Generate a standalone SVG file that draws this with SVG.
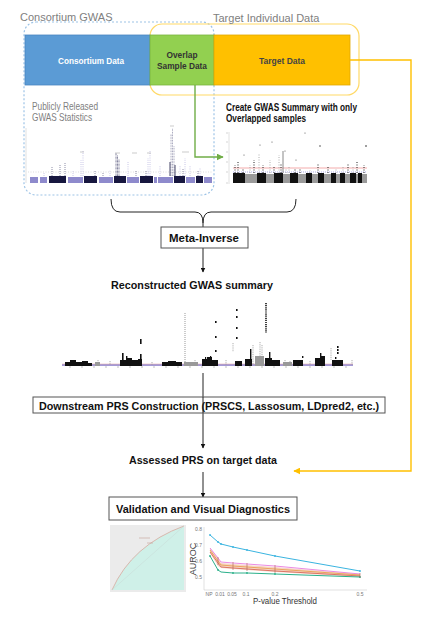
<svg xmlns="http://www.w3.org/2000/svg" width="440" height="617" viewBox="0 0 440 617">
<defs>
<style>
.lbl{font-family:"Liberation Sans",Arial,sans-serif;fill:#808080;font-size:11px}
.bold{font-family:"Liberation Sans",Arial,sans-serif;font-weight:bold;fill:#111;font-size:11px}
.inbox{font-family:"Liberation Sans",Arial,sans-serif;font-weight:bold;font-size:9.5px}
.tick{font-family:"Liberation Sans",Arial,sans-serif;fill:#777;font-size:5px}
.box{fill:#fff;stroke:#555;stroke-width:1}
.conn{stroke:#222;stroke-width:1;fill:none}
.lt{fill:#8e8acc}
.dk{fill:#17173f}
.bk{fill:#111}
.gy{fill:#9a9a9a}
.dotd{stroke:#3a3a66;stroke-width:0.7;stroke-dasharray:0.8 1.2;fill:none}
.dotl{stroke:#a09cd6;stroke-width:0.7;stroke-dasharray:0.8 1.4;fill:none}
</style>
<marker id="ak" viewBox="0 0 10 10" refX="9" refY="5" markerWidth="5" markerHeight="5" orient="auto"><path d="M0,0L10,5L0,10z" fill="#111"/></marker>
<marker id="ag" viewBox="0 0 10 10" refX="9" refY="5" markerWidth="5" markerHeight="5" orient="auto"><path d="M0,0L10,5L0,10z" fill="#70ad47"/></marker>
<marker id="ay" viewBox="0 0 10 10" refX="9" refY="5" markerWidth="5" markerHeight="5" orient="auto"><path d="M0,0L10,5L0,10z" fill="#ffc000"/></marker>
</defs>
<rect width="440" height="617" fill="#fff"/>

<g id="consortium-gwas">
<rect x="24" y="22" width="190" height="173" rx="12" fill="none" stroke="#9dc3e6" stroke-width="1.2" stroke-dasharray="2 2"/>
<text class="lbl" x="20" y="21">Consortium GWAS</text>
</g>
<g id="target-individual">
<rect x="150" y="24" width="209" height="71" rx="12" fill="none" stroke="#ffd966" stroke-width="1.2"/>
<text class="lbl" x="213" y="22">Target Individual Data</text>
</g>

<g id="consortium-data">
<rect x="25" y="35" width="125" height="50" fill="#5b9bd5" stroke="#4a86c0" stroke-width="0.8"/>
<text class="inbox" x="91" y="64" text-anchor="middle" fill="#fff" textLength="66" lengthAdjust="spacingAndGlyphs">Consortium Data</text>
</g>
<g id="overlap-data">
<rect x="150" y="35" width="64" height="50" fill="#92d050" stroke="#7ab33e" stroke-width="0.8"/>
<text class="inbox" x="182" y="58" text-anchor="middle" fill="#333" textLength="31" lengthAdjust="spacingAndGlyphs">Overlap</text>
<text class="inbox" x="182" y="69" text-anchor="middle" fill="#333" textLength="50" lengthAdjust="spacingAndGlyphs">Sample Data</text>
</g>
<g id="target-data">
<rect x="214" y="35" width="136" height="50" fill="#ffc000" stroke="#e0a800" stroke-width="0.8"/>
<text class="inbox" x="282" y="64" text-anchor="middle" fill="#444" textLength="46" lengthAdjust="spacingAndGlyphs">Target Data</text>
</g>

<g id="public-gwas">
<text class="lbl" x="32" y="110" font-size="10" textLength="66" lengthAdjust="spacingAndGlyphs">Publicly Released</text>
<text class="lbl" x="32" y="121" font-size="10" textLength="60" lengthAdjust="spacingAndGlyphs">GWAS Statistics</text>
<line x1="26" y1="128" x2="26" y2="183" stroke="#ccc" stroke-width="0.6"/>
<line x1="28" y1="172" x2="212" y2="172" stroke="#bbb" stroke-width="0.5" stroke-dasharray="1 1.5"/>
<rect class="lt" x="30" y="177" width="8" height="6"/>
<rect class="lt" x="40" y="177" width="7" height="6"/>
<rect class="dk" x="49" y="176" width="17" height="7"/>
<rect class="lt" x="68" y="177" width="15" height="6"/>
<rect class="dk" x="84" y="176" width="13" height="7"/>
<rect class="lt" x="99" y="177" width="14" height="6"/>
<rect class="dk" x="114" y="176" width="12" height="7"/>
<rect class="lt" x="127" y="177" width="12" height="6"/>
<rect class="dk" x="140" y="176" width="13" height="7"/>
<rect class="lt" x="154" y="177" width="3" height="6"/>
<rect class="lt" x="158" y="177" width="15" height="6"/>
<rect class="dk" x="174" y="176" width="11" height="7"/>
<rect class="lt" x="186" y="177" width="9" height="6"/>
<rect class="dk" x="196" y="176" width="7" height="7"/>
<rect class="lt" x="204" y="177" width="8" height="6"/>
<path class="dotd" d="M52,176V167M60,176V164M65,176V162M95,176V170M103,176V172M136,176V170M146,176V171M183,176V168M198,176V170"/>
<path class="dotl" d="M81,176V160M83,176V150M128,176V162M148,176V158M150,176V150M160,176V165M180,176V165M185,176V158M190,176V166M200,176V168M44,176V173M73,176V171M110,176V170"/>
<path d="M116,176V153M117.5,176V155M119,176V159" stroke="#2a2a58" stroke-width="0.7" stroke-dasharray="0.8 0.6"/>
<path d="M171,176V134M172.5,176V128M174,176V146" stroke="#555580" stroke-width="0.6" stroke-dasharray="0.8 0.8"/>
<path d="M170,176V162M175,176V165" stroke="#15153f" stroke-width="0.8"/>
<path d="M80,152H84M115,153H120M147,153H151M132,153H137M182,152H189M170,126H174" stroke="#aaa" stroke-width="0.6"/>
</g>

<g id="overlap-gwas">
<text class="bold" x="226" y="111" font-size="10" textLength="131" lengthAdjust="spacingAndGlyphs">Create GWAS Summary with only</text>
<text class="bold" x="226" y="122" font-size="10" textLength="80" lengthAdjust="spacingAndGlyphs">Overlapped samples</text>
<line x1="229" y1="132" x2="229" y2="184" stroke="#ccc" stroke-width="0.6"/>
<path d="M226,133H228M226,142H228M226,152H228M226,162H228M226,172H228M226,183H228" stroke="#aaa" stroke-width="0.5"/>
<rect class="bk" x="233" y="173" width="12" height="10"/>
<rect class="gy" x="245" y="174" width="12" height="9"/>
<rect class="bk" x="257" y="173" width="9" height="10"/>
<rect class="gy" x="266" y="174" width="8" height="9"/>
<rect class="bk" x="274" y="173" width="9" height="10"/>
<rect class="gy" x="283" y="174" width="7" height="9"/>
<rect class="bk" x="290" y="173" width="8" height="10"/>
<rect class="gy" x="298" y="174" width="8" height="9"/>
<rect class="bk" x="306" y="173" width="6" height="10"/>
<rect class="gy" x="312" y="174" width="6" height="9"/>
<rect class="bk" x="318" y="173" width="6" height="10"/>
<rect class="gy" x="324" y="174" width="7" height="9"/>
<rect class="bk" x="331" y="173" width="5" height="10"/>
<rect class="gy" x="336" y="174" width="4" height="9"/>
<rect class="bk" x="340" y="173" width="5" height="10"/>
<rect class="gy" x="345" y="174" width="5" height="9"/>
<rect class="bk" x="350" y="173" width="6" height="10"/>
<rect class="gy" x="356" y="174" width="2" height="9"/>
<rect class="bk" x="358" y="173" width="4" height="10"/>
<rect class="gy" x="362" y="174" width="5" height="9"/>
<line x1="233" y1="168" x2="367" y2="168" stroke="#e88" stroke-width="0.7"/>
<line x1="233" y1="172" x2="367" y2="172" stroke="#8888dd" stroke-width="0.7" stroke-dasharray="1 1"/>
<path d="M235,173V165M238,173V162M243,173V168M254,173V160M263,173V165M274,173V167M281,173V163M295,173V168M300,173V169M318,173V163M328,173V166M348,173V163M357,173V162M364,173V165" stroke="#222" stroke-width="1" stroke-dasharray="1 1.5"/>
<path d="M250,173V165M259,173V153M270,173V160M279,173V155M289,173V167M286,173V168M310,173V170M336,173V169M343,173V166M353,173V166" stroke="#999" stroke-width="0.8" stroke-dasharray="1 1.5"/>
<path d="M283,173V151" stroke="#888" stroke-width="1"/>
<circle cx="272" cy="142" r="0.6" fill="#555"/><circle cx="285" cy="151" r="0.6" fill="#555"/><circle cx="305" cy="133" r="0.6" fill="#555"/><circle cx="320" cy="146" r="0.7" fill="#222"/><circle cx="366" cy="146" r="0.8" fill="#222"/><circle cx="260" cy="145" r="0.6" fill="#555"/><circle cx="244" cy="155" r="0.6" fill="#555"/><circle cx="296" cy="160" r="0.6" fill="#555"/>
</g>

<g id="connectors">
<path d="M195,85V157H223" stroke="#70ad47" stroke-width="1.4" fill="none" marker-end="url(#ag)"/>
<path d="M350,60H411V471H294" stroke="#ffc000" stroke-width="1.4" fill="none" marker-end="url(#ay)"/>
<path class="conn" d="M111,199Q111,212 120,212H195Q203,212 203,223Q203,212 211,212H287Q296,212 296,199" stroke="#444"/>
<line class="conn" x1="203" y1="223" x2="203" y2="227"/>
<line class="conn" x1="203" y1="248" x2="203" y2="272" marker-end="url(#ak)"/>
<line class="conn" x1="203" y1="373" x2="203" y2="448" marker-end="url(#ak)"/>
<line class="conn" x1="203" y1="472" x2="203" y2="497" marker-end="url(#ak)"/>
</g>

<g id="meta-inverse">
<rect class="box" x="161" y="227" width="87" height="21"/>
<text class="bold" x="204" y="242" text-anchor="middle" textLength="70" lengthAdjust="spacingAndGlyphs">Meta-Inverse</text>
</g>

<g id="reconstructed">
<text class="bold" x="192" y="289" text-anchor="middle" textLength="162" lengthAdjust="spacingAndGlyphs">Reconstructed GWAS summary</text>
<line x1="62" y1="365" x2="353" y2="365" stroke="#a49ad6" stroke-width="2"/>
<line x1="62" y1="364" x2="353" y2="364" stroke="#e3a0a0" stroke-width="0.5"/>
<path d="M70,366V368M82,366V368M94,366V368M106,366V368M118,366V368M130,366V368M142,366V368M154,366V368M166,366V368M178,366V368M190,366V368M202,366V368M214,366V368M226,366V368M238,366V368M250,366V368M262,366V368M274,366V368M286,366V368M298,366V368M310,366V368M322,366V368M334,366V368M346,366V368" stroke="#999" stroke-width="0.6"/>
<g fill="#111">
<path d="M65,366V362H70V360H76V362H82V361H88V363H92V366Z"/>
<path d="M120,366V360H126V358H132V360H138V359H142V366Z"/>
<rect x="122" y="353" width="1.6" height="12"/>
<rect x="126" y="356" width="1.4" height="9"/>
<rect x="140" y="354" width="1.6" height="11"/>
<rect x="140" y="339" width="1.6" height="5"/>
<path d="M162,366V362H168V361H176V362H182V366Z"/>
<path d="M202,366V359H207V357H212V360H218V366Z"/>
<rect x="205" y="357" width="1.2" height="8"/>
<rect x="210" y="356" width="1.2" height="9"/>
<rect x="215" y="321" width="1.6" height="2"/>
<rect x="215" y="336" width="1.6" height="2"/>
<rect x="215" y="350" width="1.6" height="2"/>
<path d="M235,366V361H242V366Z"/>
<rect x="236" y="309" width="1.6" height="2"/>
<rect x="236" y="316" width="1.6" height="2"/>
<rect x="236" y="327" width="1.6" height="2"/>
<rect x="236" y="337" width="1.6" height="2"/>
<path d="M245,366V359H252V366Z"/>
<rect x="250" y="349" width="1.4" height="16"/>
<path d="M265,366V358H272V360H280V366Z"/>
<rect x="269" y="352" width="1.4" height="8"/>
<path d="M293,366V360H303V366Z"/>
<rect x="302" y="356" width="1.4" height="2"/>
<path d="M315,366V358H320V356H325V366Z"/>
<rect x="320" y="353" width="1.4" height="12"/>
<path d="M332,366V360H343V366Z"/>
<rect x="337" y="346" width="1.6" height="2"/>
<rect x="337" y="349" width="1.6" height="2"/>
<rect x="337" y="352" width="1.6" height="2"/>
<rect x="335" y="357" width="1.4" height="2"/>
</g>
<path d="M266,303V333" stroke="#111" stroke-width="1.6" stroke-dasharray="1.2 0.9"/>
<path d="M185,313V365" stroke="#999" stroke-width="1" stroke-dasharray="1 1"/>
<path d="M253,345V365M233,343V352M331,348V360M260,342V365M262,345V365M98,360V365M110,361V365M152,362V365M195,360V365M226,360V365M285,360V365M310,361V365M352,360V365M290,361V365" stroke="#999" stroke-width="0.8" stroke-dasharray="1 0.8"/>
<path d="M95,362H100V366H95ZM184,362H198V366H184ZM255,356H264V366H255ZM283,362H292V366H283Z" fill="#999"/>
</g>

<g id="downstream">
<rect class="box" x="33" y="397" width="352" height="16"/>
<text class="bold" x="209" y="410" text-anchor="middle" textLength="340" lengthAdjust="spacingAndGlyphs">Downstream PRS Construction (PRSCS, Lassosum, LDpred2, etc.)</text>
<line x1="203" y1="397" x2="203" y2="413" stroke="#222" stroke-width="1"/>
</g>

<g id="assessed">
<text class="bold" x="203" y="464" text-anchor="middle" textLength="148" lengthAdjust="spacingAndGlyphs">Assessed PRS on target data</text>
</g>

<g id="validation">
<rect class="box" x="109" y="497" width="188" height="23"/>
<text class="bold" x="203" y="513" text-anchor="middle" textLength="174" lengthAdjust="spacingAndGlyphs">Validation and Visual Diagnostics</text>
</g>

<g id="roc-plot">
<rect x="110" y="525" width="76" height="67" fill="#ebebeb"/>
<path d="M112,590Q132,545 184,526V590Z" fill="#cff0e8"/>
<path d="M112,590Q132,545 184,526" fill="none" stroke="#d8b8ae" stroke-width="1"/>
<line x1="112" y1="590" x2="184" y2="526" stroke="#c6d9d4" stroke-width="0.5"/>
<path d="M139,538H150M147,543H153" stroke="#c9a9a0" stroke-width="0.7"/>
</g>

<g id="auroc-plot">
<path d="M204,527V590H367" fill="none" stroke="#ccc" stroke-width="0.6"/>
<text class="tick" x="202" y="531" text-anchor="end">0.8</text>
<text class="tick" x="202" y="547" text-anchor="end">0.7</text>
<text class="tick" x="202" y="563" text-anchor="end">0.6</text>
<text class="tick" x="202" y="579" text-anchor="end">0.5</text>
<text class="tick" x="209" y="596" text-anchor="middle">NP</text>
<text class="tick" x="220" y="596" text-anchor="middle">0.01</text>
<text class="tick" x="232" y="596" text-anchor="middle">0.05</text>
<text class="tick" x="246" y="596" text-anchor="middle">0.1</text>
<text class="tick" x="275" y="596" text-anchor="middle">0.2</text>
<text class="tick" x="360" y="596" text-anchor="middle">0.5</text>
<text x="196" y="559" transform="rotate(-90 196 559)" text-anchor="middle" font-family="Liberation Sans,Arial,sans-serif" font-size="9" fill="#444">AUROC</text>
<text x="285" y="604" text-anchor="middle" font-family="Liberation Sans,Arial,sans-serif" font-size="8.5" fill="#333" textLength="64" lengthAdjust="spacingAndGlyphs">P-value Threshold</text>
<path d="M210,548L218,558L221,563L233,564L247,565L275,567L360,574L360,577L275,572L247,570L233,569L221,568L218,566L210,553Z" fill="#f4c9b8" opacity="0.8"/>
<polyline points="210,548 218,558 221,562 233,563 247,564 275,566 360,574" fill="none" stroke="#e87de0" stroke-width="0.9"/>
<polyline points="210,550 218,561 221,565 233,566 247,567 275,569 360,575" fill="none" stroke="#e8a050" stroke-width="0.9"/>
<polyline points="210,552 218,563 221,567 233,568 247,569 275,571 360,576" fill="none" stroke="#d86a5a" stroke-width="0.9"/>
<polyline points="210,556 218,570 221,572 233,573 247,573 275,574 360,577" fill="none" stroke="#2ab08a" stroke-width="1"/>
<polyline points="210,535 218,542 221,544 233,547 247,550 275,556 360,571" fill="none" stroke="#3ab4e0" stroke-width="1"/>
<g fill="#3ab4e0"><circle cx="210" cy="535" r="0.9"/><circle cx="218" cy="542" r="0.9"/><circle cx="221" cy="544" r="0.9"/><circle cx="233" cy="547" r="0.9"/><circle cx="247" cy="550" r="0.9"/><circle cx="275" cy="556" r="0.9"/><circle cx="360" cy="571" r="0.9"/></g>
<g fill="#2ab08a"><circle cx="210" cy="556" r="0.9"/><circle cx="218" cy="570" r="0.9"/><circle cx="233" cy="573" r="0.9"/><circle cx="247" cy="573" r="0.9"/><circle cx="275" cy="574" r="0.9"/><circle cx="360" cy="577" r="0.9"/></g>
<path d="M218,557V565M233,562V570M247,563V571M275,565V573M360,573V578" stroke="#b06050" stroke-width="0.6"/>
</g>
</svg>
